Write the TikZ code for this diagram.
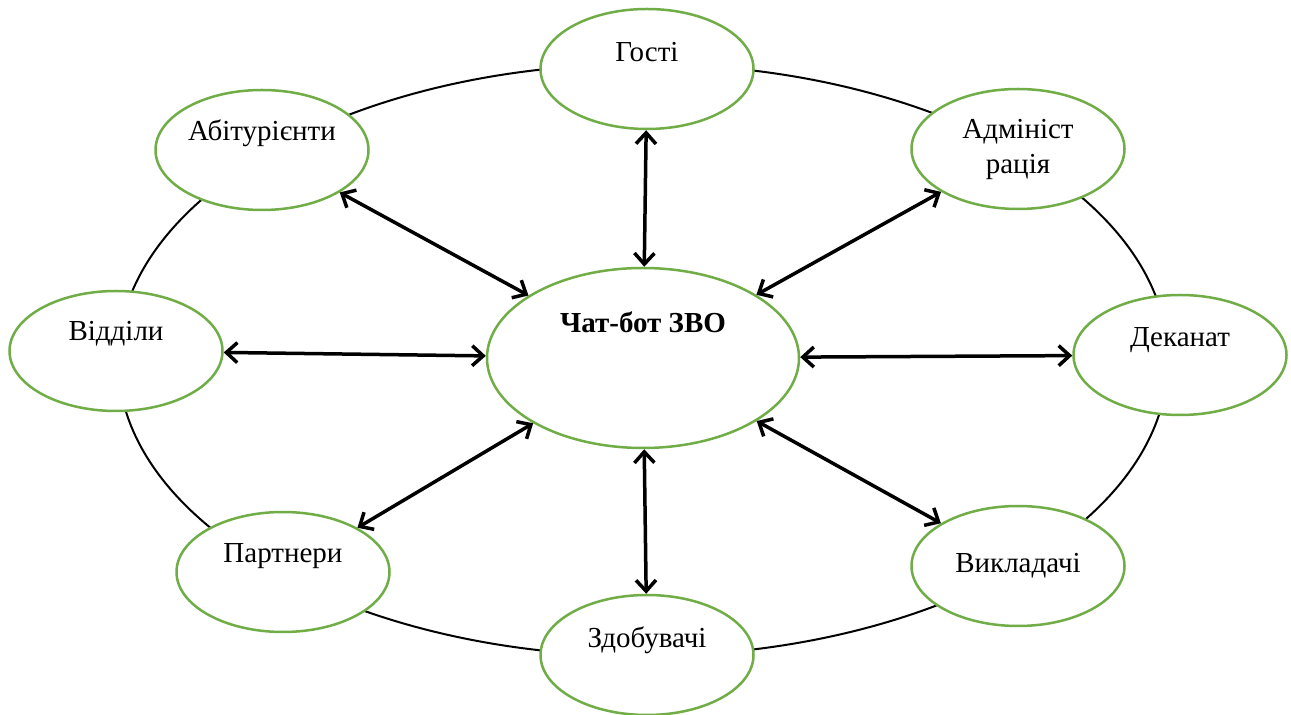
\documentclass[tikz,border=0pt]{standalone}
\usepackage{fontspec}
\setmainfont{Liberation Serif}
\usetikzlibrary{shapes.geometric,arrows.meta}
\definecolor{leafgreen}{HTML}{70AD47}

\begin{document}
\begin{tikzpicture}[
  x=0.5pt, y=-0.5pt,
  every node/.style={font=\fontsize{14.5}{17.5}\selectfont},
  actor/.style={ellipse,draw=leafgreen,line width=1.25pt,fill=white,
    minimum width=106.5pt,minimum height=60pt,inner sep=0pt},
  bot/.style={actor,minimum width=156pt,minimum height=90pt},
  link/.style={{Straight Barb[length=5.5pt,width=10pt]}-{Straight Barb[length=5.5pt,width=10pt]},
    line width=1.75pt}
]
  \useasboundingbox (0,0) rectangle (1291,715);
  % outer ring
  \draw[line width=1pt] (643,360) ellipse [x radius=262.5pt, y radius=148pt];

  \node[bot, label={[yshift=18pt]center:\textbf{Чат-бот ЗВО}}] (bot) at (643,358) {};

  \node[actor, label={[yshift=8.5pt]center:Гості}] (guests) at (647,69) {};
  \node[actor, label={[yshift=8.5pt]center:Абітурієнти}] (applicants) at (262,150) {};
  \node[actor, align=center] (admin) at (1018,149) {Адмініст\\рація};
  \node[actor, label={[yshift=8.5pt]center:Відділи}] (depts) at (116,351) {};
  \node[actor, label={[yshift=7.5pt]center:Деканат}] (deanery) at (1180,355) {};
  \node[actor, label={[yshift=8pt]center:Партнери}] (partners) at (283,572) {};
  \node[actor] (teachers) at (1018,566) {Викладачі};
  \node[actor, label={[yshift=7.5pt]center:Здобувачі}] (students) at (647,655) {};

  \foreach \who in {guests,applicants,admin,depts,deanery,partners,teachers,students}
    \draw[link] (\who) -- (bot);
\end{tikzpicture}
\end{document}
